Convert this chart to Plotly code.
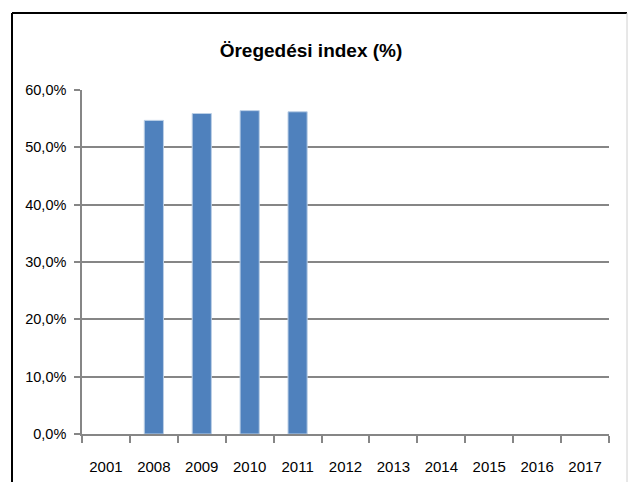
import plotly.graph_objects as go

years = ["2001", "2008", "2009", "2010", "2011", "2012", "2013", "2014", "2015", "2016", "2017"]
values = [None, 54.7, 55.9, 56.4, 56.2, None, None, None, None, None, None]
title_text = "Öregedési index (%)"

FONT = "Liberation Sans, Arial, sans-serif"
W, H = 629, 482
L, R, T, B = 82, 20, 90, 48
pw, ph = W - L - R, H - T - B

def px_x(x):
    return (x - L) / pw

def px_y(y):
    return (H - B - y) / ph

fig = go.Figure(go.Bar(
    x=years, y=values,
    marker=dict(color="#4F81BD", line=dict(color="#BBCFE6", width=1)),
    width=0.4,
))

fig.update_layout(
    width=W, height=H,
    margin=dict(l=L, r=R, t=T, b=B, autoexpand=False),
    paper_bgcolor="white", plot_bgcolor="white",
    separators=", ",
    showlegend=False,
    title=dict(text="<b>" + title_text + "</b>", x=311 / W, xref="container", xanchor="center",
               y=1 - 50 / H, yref="container", yanchor="middle",
               font=dict(family=FONT, size=19, color="black")),
    font=dict(family=FONT, size=14, color="black"),
)
fig.update_xaxes(
    type="category", showline=True, linecolor="#868686", linewidth=1.5,
    ticks="outside", tickson="boundaries", ticklen=7, tickcolor="#868686", tickwidth=1.5,
    showgrid=False, ticklabelstandoff=18, automargin=False,
    tickfont=dict(family=FONT, size=15, color="black"),
)
fig.update_yaxes(
    range=[0, 60], dtick=10, tickformat=".1f", ticksuffix="%",
    showline=True, linecolor="#868686", linewidth=1.5, automargin=False,
    ticks="outside", ticklen=6, tickcolor="#868686", tickwidth=1.5,
    showgrid=True, gridcolor="#868686", gridwidth=1.5, zeroline=False,
    ticklabelstandoff=5,
    tickfont=dict(family=FONT, size=14.5, color="black"),
)

# chart frame
fig.add_shape(type="line", xref="paper", yref="paper",
              x0=px_x(12), x1=px_x(12), y0=px_y(13), y1=px_y(500),
              line=dict(color="black", width=2))
fig.add_shape(type="line", xref="paper", yref="paper",
              x0=px_x(12), x1=px_x(627), y0=px_y(13), y1=px_y(13),
              line=dict(color="black", width=2))
fig.add_shape(type="line", xref="paper", yref="paper",
              x0=px_x(627), x1=px_x(627), y0=px_y(13), y1=px_y(500),
              line=dict(color="#D0D0D0", width=1))

fig.write_html("out.html", config={"displayModeBar": False},
               post_script="document.body.style.margin='0';document.body.style.overflow='hidden';")
